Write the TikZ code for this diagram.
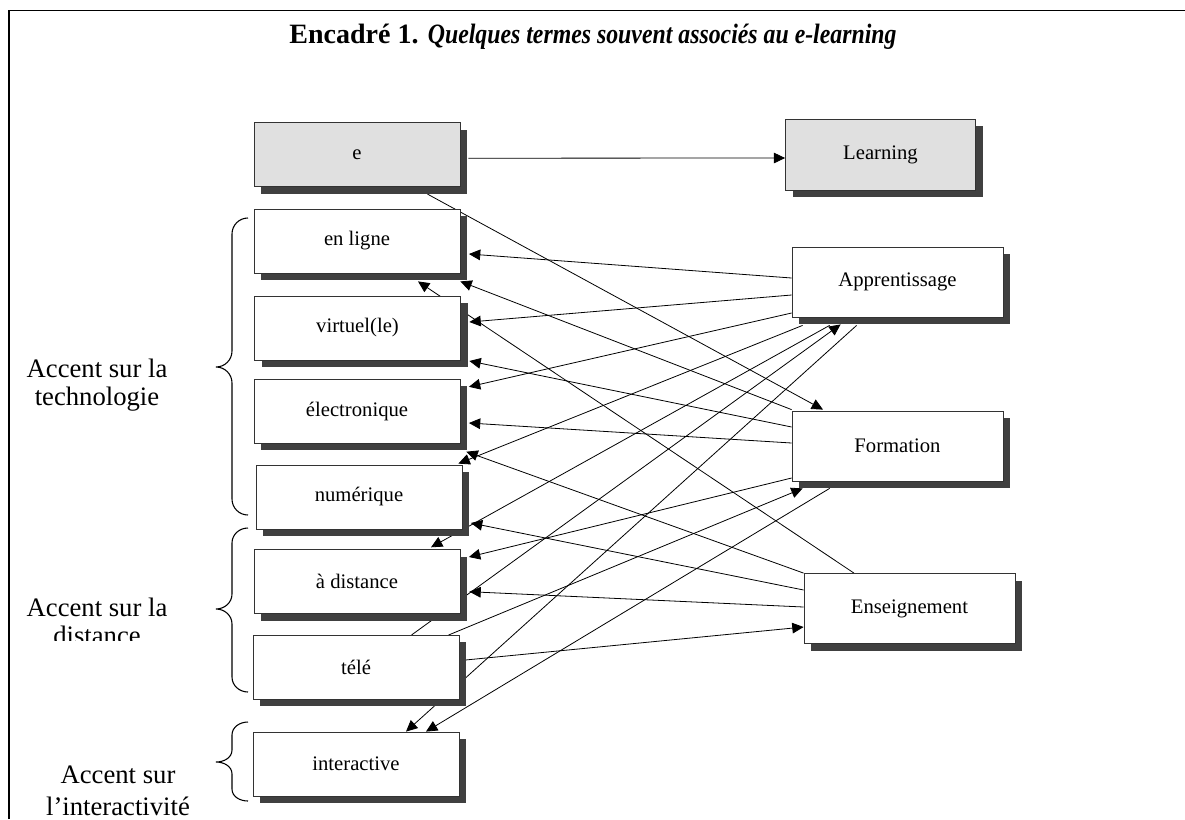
\documentclass[tikz,border=0pt]{standalone}
\usepackage{graphicx}
\usepackage{fontspec}
\setmainfont{Liberation Serif}
\usetikzlibrary{arrows.meta,calc,shadows}
\pgfdeclarelayer{bg}
\pgfsetlayers{bg,main}
\definecolor{shad}{RGB}{64,64,64}
\definecolor{boxgray}{RGB}{224,224,224}
\begin{document}
\begin{tikzpicture}[x=0.75pt,y=-0.75pt,
  box/.style={draw=black!80, line width=0.6pt, fill=white, inner sep=0pt,
    font=\fontsize{15.5pt}{18pt}\selectfont,
    drop shadow={shadow xshift=5.25pt, shadow yshift=-5.25pt, fill=shad, opacity=1}},
  lbox/.style={box, minimum width=154.5pt, minimum height=48pt},
  rbox/.style={box, minimum width=158.25pt, minimum height=52.5pt},
  conn/.style={line width=0.6pt, -{Triangle[length=8.5pt,width=8pt]}},
  bracestyle/.style={line width=0.8pt},
  side/.style={font=\fontsize{20pt}{21pt}\selectfont, inner sep=0pt, anchor=base}
]
\useasboundingbox (0,0) rectangle (1185,819);
\draw[line width=1.3pt] (9,819) -- (9,10.5) -- (1185,10.5);
\node[font=\fontsize{21pt}{24pt}\selectfont, anchor=base, inner sep=0pt] (title) at (593,43)
  {\textbf{Encadré 1.} \scalebox{0.85}[1]{\textbf{\textit{Quelques termes souvent associés au e-learning}}}};

% boxes
\node[lbox, fill=boxgray] (e) at (357,154.7) {e};
\node[box, fill=boxgray, minimum width=142.5pt, minimum height=53.25pt] (learning) at (880.5,154.5) {Learning};
\node[lbox] (enligne) at (357,241) {en ligne};
\node[lbox] (virtuel) at (357.5,328) {virtuel(le)};
\node[lbox] (electronique) at (357,411.3) {électronique};
\node[lbox] (numerique) at (359,497) {numérique};
\node[lbox] (adistance) at (357,581.7) {à distance};
\node[lbox] (tele) at (356,667.4) {télé};
\node[lbox] (interactive) at (356,764) {interactive};
\node[rbox] (appr) at (897.5,282) {Apprentissage};
\node[rbox] (form) at (897.5,446) {Formation};
\node[rbox] (ens) at (909.5,608.5) {Enseignement};

% connectors (behind the boxes)
\begin{pgfonlayer}{bg}
\draw[conn] ($(e.east)+(8,3.5)$) -- ($(learning.west)+(0,3.5)$);
\draw[conn] ($(e.south)+(70.5,7)$) -- ($(form.north)+(-74.5,-1)$);
\draw[conn] ($(appr.west)+(0,-4)$) -- ($(enligne.east)+(8.5,13)$);
\draw[conn] ($(appr.west)+(0,13)$) -- ($(virtuel.east)+(8.5,-6)$);
\draw[conn] ($(appr.west)+(0,31)$) -- ($(electronique.east)+(8.5,-24.5)$);
\draw[conn] ($(form.north west)+(0,-1)$) -- ($(enligne.south east)+(0,8)$);
\draw[conn] ($(form.west)+(0,-19)$) -- ($(virtuel.east)+(8.5,33)$);
\draw[conn] ($(form.west)+(0,-3)$) -- ($(electronique.east)+(8.5,11.7)$);
\draw[conn] ($(form.west)+(0,32)$) -- ($(adistance.east)+(8.5,-24.7)$);
\draw[conn] ($(ens.north)+(-55.5,0)$) -- ($(enligne.south)+(61,8)$);
\draw[conn] (ens.north west) -- ($(electronique.south east)+(6,8)$);
\draw[conn] ($(ens.west)+(0,-18.5)$) -- ($(numerique.east)+(8.5,26)$);
\draw[conn] ($(ens.west)+(0,-1.5)$) -- ($(adistance.east)+(9,10)$);
\draw[conn] ($(tele.east)+(6,-7.4)$) -- ($(ens.west)+(0,18.5)$);
\draw[conn] ($(appr.south west)+(11,8)$) -- ($(numerique.north east)+(-4,-1)$);
\draw[conn] ($(appr.south west)+(38,8)$) -- ($(adistance.north)+(74,-2)$);
\draw[conn] ($(tele.north)+(55.5,0)$) -- ($(appr.south west)+(49,7)$);
\draw[conn] ($(appr.south west)+(65,8)$) -- ($(interactive.north)+(50,0)$);
\draw[conn] ($(tele.north)+(92.6,0)$) -- ($(form.south west)+(11,7)$);
\draw[conn] ($(form.south west)+(38,7)$) -- ($(interactive.north)+(70,0)$);
\end{pgfonlayer}

% braces
\draw[bracestyle] (248,218) to[out=180,in=90] (232,234) -- (232,351) to[out=-90,in=0] (216,367)
  to[out=0,in=90] (232,383) -- (232,499) to[out=-90,in=180] (248,515);
\draw[bracestyle] (248,528) to[out=180,in=90] (232,543) -- (232,594) to[out=-90,in=0] (216,609)
  to[out=0,in=90] (232,624) -- (232,677) to[out=-90,in=180] (248,692);
\draw[bracestyle] (248,722) to[out=180,in=90] (232,735) -- (232,750) to[out=-90,in=0] (216,762)
  to[out=0,in=90] (232,774) -- (232,789) to[out=-90,in=180] (248,801);

% side labels
\node[side] (l1a) at (97,377) {Accent sur la};
\node[side] (l1b) at (97,405) {technologie};
\node[side] (l2a) at (97,616) {Accent sur la};
\begin{scope}
\clip (0,0) rectangle (250,640);
\node[side] (l2b) at (97,644) {distance};
\end{scope}
\node[side] (l3a) at (118,783) {Accent sur};
\node[side] (l3b) at (118,815) {l'interactivité};
\end{tikzpicture}
\end{document}
